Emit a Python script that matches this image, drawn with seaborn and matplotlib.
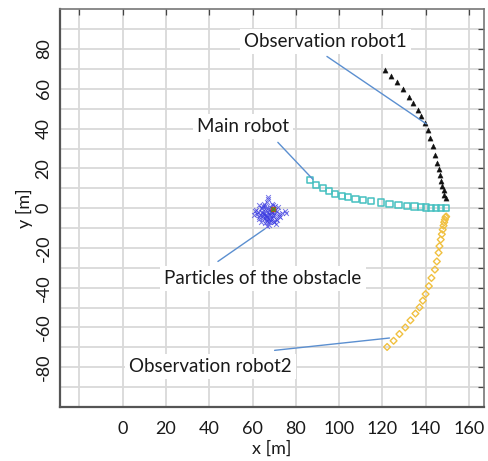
import matplotlib
matplotlib.use("Agg")
import matplotlib.pyplot as plt
import seaborn as sns
import pandas as pd
import numpy as np

# ---------------- data ----------------
obs1_x = [121.2, 124.1, 127.0, 129.6, 132.1, 134.4, 136.3, 138.0, 139.5, 141.0, 142.1,
          143.5, 144.4, 145.3, 146.1, 146.7, 147.3, 147.8, 148.3, 148.7, 149.2]
obs1_y = [69.3, 66.3, 63.2, 59.7, 56.0, 53.0, 49.4, 46.5, 43.0, 39.4, 35.2,
          31.1, 26.9, 22.8, 19.5, 16.5, 13.8, 11.1, 9.1, 6.6, 5.0]

main_x = [86.4, 89.5, 92.5, 95.5, 98.2, 101.2, 104.2, 107.6, 111.0, 114.9, 119.5,
          123.3, 127.5, 131.5, 134.9, 138.0, 140.3, 142.6, 144.9, 147.2, 149.5]
main_y = [14.0, 11.6, 10.1, 8.5, 7.1, 6.1, 5.5, 4.8, 4.2, 3.5, 2.8,
          2.2, 1.7, 1.2, 0.8, 0.5, 0.3, 0.2, 0.0, 0.0, 0.0]

obs2_x = [122.2, 125.2, 127.9, 130.6, 133.0, 135.3, 137.2, 138.7, 140.0, 141.5, 142.7,
          144.3, 145.2, 146.0, 146.4, 147.0, 147.5, 147.9, 148.3, 148.6, 148.9, 149.2, 149.5]
obs2_y = [-69.8, -66.7, -63.3, -60.0, -56.4, -53.0, -49.9, -46.5, -43.2, -39.2, -35.1,
          -30.9, -26.8, -22.4, -19.1, -15.8, -13.1, -10.8, -8.8, -7.1, -5.8, -4.6, -4.2]

part_x = [67.1, 66.0, 68.2, 65.3, 69.0, 64.4, 70.1, 66.7, 67.9, 63.5, 71.2, 65.8,
          68.8, 62.6, 72.4, 66.3, 69.6, 64.9, 67.4, 61.5, 73.5, 65.1, 70.7, 63.9,
          68.4, 66.9, 71.8, 64.1, 69.3, 67.7, 60.6, 74.8, 66.2, 68.9, 62.9, 70.4,
          65.6, 67.0, 72.9, 63.2, 69.8, 66.5, 75.5, 61.0, 68.0, 64.6, 70.9, 67.3,
          66.4, 68.6, 65.0, 69.9, 67.6, 64.2, 71.4, 66.8, 68.1, 63.0, 70.3, 65.5,
          67.9, 69.2, 64.8, 66.1, 72.1, 62.2, 68.5, 67.2, 65.9, 70.0]
part_y = [-2.1, -1.0, -3.2, -2.8, -0.6, -1.7, -2.5, -4.3, 0.4, -3.6, -1.4, 0.9,
          -5.0, -2.0, -3.0, -6.1, 1.6, -4.9, -7.2, -0.8, -2.2, 2.3, -5.6, 0.2,
          -1.9, 3.1, 0.7, -6.8, -3.9, -8.3, -3.3, -1.2, -3.5, 2.0, -5.5, 1.3,
          -7.7, 4.5, -4.4, 1.8, -6.9, -9.0, -2.6, -1.3, -0.2, -2.4, -7.9, -5.2,
          -3.8, -1.5, -4.0, -3.4, -2.9, -0.1, -5.9, -6.4, -4.7, -4.6, -1.1, -2.3,
          -6.0, -2.0, 1.1, 0.3, -3.7, -2.7, -6.5, 5.4, -5.1, -7.0]

obstacle_x = [69.4]
obstacle_y = [-0.2]

# labels and their leader lines
label_text = ["Observation robot1", "Main robot", "Particles of the obstacle", "Observation robot2"]
label_x = [93.6, 55.6, 64.8, 40.7]
label_y = [83.9, 41.1, -35.4, -79.8]
leader_x0 = [94.4, 71.7, 44.0, 70.2]
leader_y0 = [76.3, 33.1, -26.8, -71.5]
leader_x1 = [140.3, 87.9, 65.6, 123.3]
leader_y1 = [42.4, 14.5, -10.5, -65.3]

x_ticks = [-20, 0, 20, 40, 60, 80, 100, 120, 140, 160]
x_ticklabels = ["", "0", "20", "40", "60", "80", "100", "120", "140", "160"]
y_ticks = [-90, -80, -70, -60, -50, -40, -30, -20, -10, 0, 10, 20, 30, 40, 50, 60, 70, 80, 90]
y_ticklabels = ["", "-80", "", "-60", "", "-40", "", "-20", "", "0", "", "20", "", "40", "", "60", "", "80", ""]

# ---------------- plotting ----------------
sns.set_theme(style="whitegrid")
plt.rcParams["font.family"] = ["Lato", "DejaVu Sans"]

fig = plt.figure(figsize=(4.89, 4.61), dpi=100)
ax = fig.add_axes([0.1227, 0.1171, 0.8671, 0.8627])

df_obs1 = pd.DataFrame({"x": obs1_x, "y": obs1_y})
df_main = pd.DataFrame({"x": main_x, "y": main_y})
df_obs2 = pd.DataFrame({"x": obs2_x, "y": obs2_y})
df_part = pd.DataFrame({"x": part_x, "y": part_y})

sns.scatterplot(data=df_part, x="x", y="y", ax=ax, marker="x", s=12, color="#3a3ae0",
                linewidth=0.7, alpha=0.7, zorder=3)
sns.scatterplot(data=df_obs1, x="x", y="y", ax=ax, marker="^", s=14, color="#111111",
                edgecolor="#111111", linewidth=0.3, zorder=4)
sns.scatterplot(data=df_main, x="x", y="y", ax=ax, marker="s", s=20, facecolor="none",
                edgecolor="#45c0c0", linewidth=1.1, zorder=4)
sns.scatterplot(data=df_obs2, x="x", y="y", ax=ax, marker="D", s=12, facecolor="none",
                edgecolor="#f0c040", linewidth=1.0, zorder=4)
ax.scatter(obstacle_x, obstacle_y, marker="s", s=10, color="#d04020", zorder=5)
ax.scatter(obstacle_x, obstacle_y, marker="x", s=10, color="#30a030", linewidths=0.8, zorder=6)

for x0, y0, x1, y1 in zip(leader_x0, leader_y0, leader_x1, leader_y1):
    ax.plot([x0, x1], [y0, y1], color="#5b8fd0", linewidth=1.0, zorder=5)

for t, x, y in zip(label_text, label_x, label_y):
    ax.text(x, y, t, ha="center", va="center", fontsize=13.5, color="#1a1a1a", zorder=6,
            bbox=dict(facecolor="white", edgecolor="none", pad=3.0))

ax.set_xlim(-29, 167)
ax.set_ylim(-100, 100)
ax.set_xticks(x_ticks)
ax.set_xticklabels(x_ticklabels)
ax.set_yticks(y_ticks)
ax.set_yticklabels(y_ticklabels, rotation=90, va="center")

ax.grid(True, color="#d9d9d9", linewidth=1.3)
ax.set_axisbelow(True)
ax.tick_params(axis="both", direction="in", length=4, width=0.9, color="#444444",
               top=True, right=True, labelsize=13, labelcolor="#1a1a1a", pad=6)
ax.tick_params(axis="x", pad=10)
for side in ["left", "bottom"]:
    ax.spines[side].set_color("#555555")
    ax.spines[side].set_linewidth(1.6)
for side in ["top", "right"]:
    ax.spines[side].set_color("#777777")
    ax.spines[side].set_linewidth(1.2)

ax.set_xlabel("x [m]", fontsize=13, color="#1a1a1a", labelpad=3)
ax.set_ylabel("y [m]", fontsize=13, color="#1a1a1a", labelpad=2)

fig.savefig("out.png", dpi=100, facecolor="white")
